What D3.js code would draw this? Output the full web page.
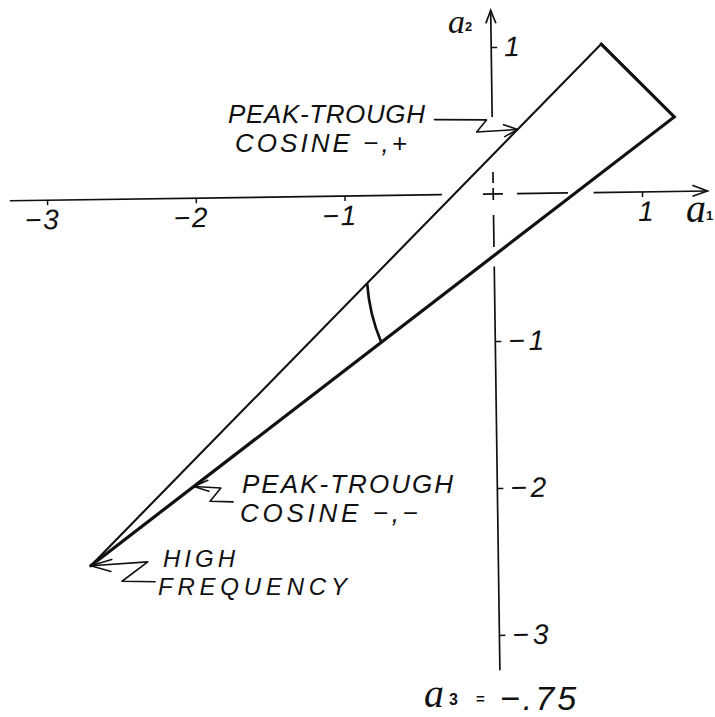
<!DOCTYPE html>
<html>
<head>
<meta charset="utf-8">
<script src="https://cdn.jsdelivr.net/npm/d3@7"></script>
<style>
  html, body { margin: 0; padding: 0; background: #fff; }
  svg { display: block; }
  .lbl { font-family: "Liberation Sans", Arial, sans-serif; font-style: italic; font-size: 26px; fill: #111; }
  .tick text { font-family: "Liberation Sans", Arial, sans-serif; font-style: italic; font-size: 28px; fill: #111; }
  .sym { font-family: "Liberation Serif", "DejaVu Serif", serif; font-style: italic; fill: #111; }
  .sub { font-family: "Liberation Sans", Arial, sans-serif; font-style: normal; font-weight: bold; fill: #111; }
</style>
</head>
<body>
<svg id="chart" width="715" height="717"></svg>
<script>
// Wedge of admissible (a1, a2) for a3 = -.75: high-frequency apex, top corner, right corner
const cornerA1 = [-2.74, 0.74, 1.224];
const cornerA2 = [-2.49, 1.01, 0.507];

// Axis ticks and extents
const xTicks = [-3, -2, -1, 1];
const yTicks = [1, -1, -2, -3];
const xAxisExtent = [-3.25, 1.44];
const yAxisExtent = [-3.24, 1.25];

// Arc across the wedge: a1 where it meets the upper and the lower edge
const arcA1 = [-0.856, -0.767];

// a1 where the two peak-trough pointers touch the upper and the lower edge
const pointerA1 = [0.17, -2.04];

// Annotation text
const labelLines = [
  ["PEAK-TROUGH", "COSINE −,+"],
  ["PEAK-TROUGH", "COSINE −,−"],
  ["HIGH", "FREQUENCY"]
];
const a3Value = "−.75";

// ---------------------------------------------------------------
const svg = d3.select("#chart");
const x = d3.scaleLinear().domain([-3, 1]).range([47, 642]);
const y = d3.scaleLinear().domain([-3, 1]).range([635, 47]);
const x0 = x(0), y0 = y(0);
const tilt = -0.8;   // the hand-drawn sheet sits slightly rotated

const g = svg.append("g").attr("transform", `rotate(${tilt},${x0},${y0})`);

const corners = cornerA1.map((a, i) => [a, cornerA2[i]]);
const UPPER = [0, 1], LOWER = [0, 2];
function onEdge(edge, a1) {
  const p = corners[edge[0]], q = corners[edge[1]];
  const t = (a1 - p[0]) / (q[0] - p[0]);
  return [a1, p[1] + t * (q[1] - p[1])];
}
function edgeAtA2(edge, a2) {
  const p = corners[edge[0]], q = corners[edge[1]];
  const t = (a2 - p[1]) / (q[1] - p[1]);
  return p[0] + t * (q[0] - p[0]);
}
const px = d => [x(d[0]), y(d[1])];
const fmt = d => (d < 0 ? "−" + Math.abs(d) : String(d));

// ---- axes: solid outside the wedge, broken inside it
const axisG = g.append("g").attr("stroke", "#111").attr("stroke-width", 1.7).attr("fill", "none");
const xu = x(edgeAtA2(UPPER, 0)), xl = x(edgeAtA2(LOWER, 0));
axisG.append("line").attr("x1", x(xAxisExtent[0])).attr("x2", xu - 12).attr("y1", y0).attr("y2", y0);
axisG.append("line").attr("x1", xu).attr("x2", xl).attr("y1", y0).attr("y2", y0)
  .attr("stroke-dasharray", "0,29,20,14,51,80");
axisG.append("line").attr("x1", xl + 18).attr("x2", x(xAxisExtent[1])).attr("y1", y0).attr("y2", y0);

const yu = y(onEdge(UPPER, 0)[1]), yl = y(onEdge(LOWER, 0)[1]);
axisG.append("line").attr("x1", x0).attr("x2", x0).attr("y1", y(yAxisExtent[1])).attr("y2", yu - 38);
axisG.append("line").attr("x1", x0).attr("x2", x0).attr("y1", yu).attr("y2", yl)
  .attr("stroke-dasharray", "0,17,11,5,12,15,32,80");
axisG.append("line").attr("x1", x0).attr("x2", x0).attr("y1", yl + 11).attr("y2", y(yAxisExtent[0]));

// arrow heads
const XE = x(xAxisExtent[1]), YE = y(yAxisExtent[1]);
axisG.append("path").attr("d", `M${XE - 15},${y0 - 6}L${XE},${y0}L${XE - 15},${y0 + 5}`);
axisG.append("path").attr("d", `M${x0 - 5},${YE + 13}L${x0},${YE}L${x0 + 5},${YE + 13}`);

// ticks and tick labels
const gx = g.append("g").attr("transform", `translate(0,${y0})`)
  .call(d3.axisBottom(x).tickValues(xTicks).tickSize(5).tickFormat(fmt));
gx.select(".domain").remove();
gx.selectAll(".tick line").attr("stroke", "#111").attr("stroke-width", 1.5);
gx.selectAll(".tick text").attr("y", 29).attr("dy", null).attr("x", 13)
  .attr("text-anchor", "end").attr("letter-spacing", 2);

const gy = g.append("g").attr("transform", `translate(${x0},0)`)
  .call(d3.axisRight(y).tickValues(yTicks).tickSize(6).tickFormat(fmt));
gy.select(".domain").remove();
gy.selectAll(".tick line").attr("stroke", "#111").attr("stroke-width", 1.5);
gy.selectAll(".tick text").attr("x", 13).attr("letter-spacing", 4);

// ---- the wedge
const line = d3.line().x(d => x(d[0])).y(d => y(d[1]));
g.append("path").attr("d", line([corners[1], corners[2], corners[0]]))
  .attr("fill", "none").attr("stroke", "#111").attr("stroke-width", 3.2)
  .attr("stroke-linejoin", "miter").attr("stroke-linecap", "round");
g.append("path").attr("d", line([corners[0], corners[1]]))
  .attr("fill", "none").attr("stroke", "#111").attr("stroke-width", 2.1)
  .attr("stroke-linecap", "square");

// arc across the wedge
{
  const p = px(onEdge(UPPER, arcA1[0])), q = px(onEdge(LOWER, arcA1[1]));
  const dx = q[0] - p[0], dy = q[1] - p[1], len = Math.hypot(dx, dy);
  const c = [(p[0] + q[0]) / 2 - 5 * dy / len, (p[1] + q[1]) / 2 + 5 * dx / len];
  g.append("path").attr("d", `M${p}Q${c} ${q}`)
    .attr("fill", "none").attr("stroke", "#111").attr("stroke-width", 2.7);
}

// ---- label pointers (zig-zag leader ending in an open arrow)
const pointers = [
  { tip: px(onEdge(UPPER, pointerA1[0])),
    zig: [[-83, -11], [-31, -10], [-41, 2], [0, 0]], head: [[-14, -5], [0, 0], [-13, 7]] },
  { tip: px(onEdge(LOWER, pointerA1[1])),
    zig: [[0, 0], [27, 2], [16, 15], [39, 16]], head: [[14, -6], [0, 0], [15, 5]] },
  { tip: px(corners[0]),
    zig: [[0, 0], [57, -3], [31, 16], [64, 17]], head: [[21, -6], [0, 0], [20, 6]] }
];
const rel = (t, pts) => "M" + pts.map(d => [t[0] + d[0], t[1] + d[1]]).join("L");
const pg = g.append("g").attr("fill", "none").attr("stroke", "#111").attr("stroke-width", 1.6)
  .attr("stroke-linejoin", "round").attr("stroke-linecap", "round");
pointers.forEach(pt => {
  pg.append("path").attr("d", rel(pt.tip, pt.zig));
  pg.append("path").attr("d", rel(pt.tip, pt.head));
});

// ---- annotation text: [x, baseline, length, font size]
const textLayout = [
  [[228, 123, 197, 26], [235, 152, 172, 26]],
  [[242, 493, 211, 26], [240, 522, 178, 26]],
  [[163, 567, 72, 24], [158, 595, 189, 24]]
];
labelLines.forEach((lines, i) => {
  lines.forEach((s, j) => {
    const [tx, ty, tl, fs] = textLayout[i][j];
    svg.append("text").attr("class", "lbl").attr("x", tx).attr("y", ty)
      .style("font-size", fs + "px")
      .attr("textLength", tl).attr("lengthAdjust", "spacing").text(s);
  });
});

// axis names
function axisName(xp, yp, sub, size) {
  const t = svg.append("text").attr("x", xp).attr("y", yp);
  t.append("tspan").attr("class", "sym").attr("font-size", size).text("a");
  t.append("tspan").attr("class", "sub").attr("font-size", 13).attr("dy", -2).text(sub);
}
axisName(448, 33, "2", 34);
axisName(686, 222, "1", 40);

// a3 value
svg.append("text").attr("class", "sym").attr("x", 424).attr("y", 707).attr("font-size", 40).text("a");
svg.append("text").attr("class", "sub").attr("x", 449).attr("y", 705).attr("font-size", 16).text("3");
svg.append("text").attr("class", "sub").attr("x", 476).attr("y", 704).attr("font-size", 15).text("=");
svg.append("text").attr("class", "lbl").attr("x", 500).attr("y", 710)
  .attr("letter-spacing", 3).style("font-size", "34px").text(a3Value);
</script>
</body>
</html>
